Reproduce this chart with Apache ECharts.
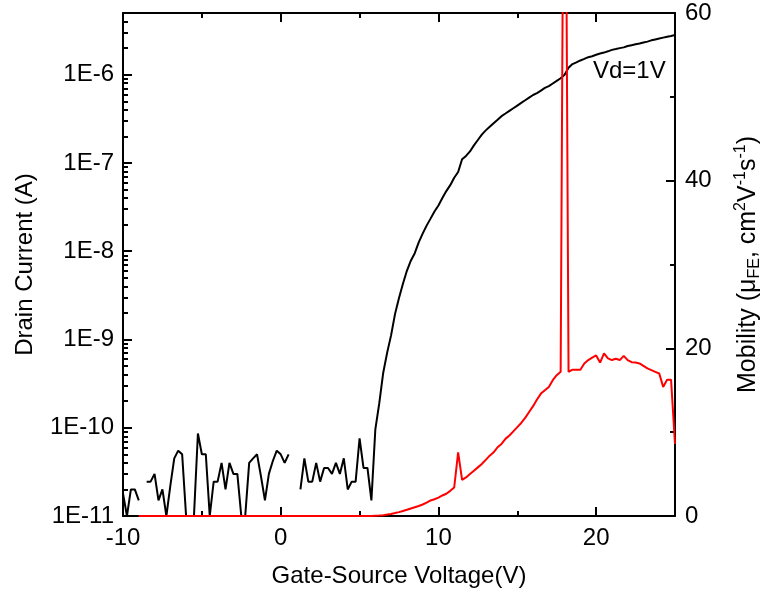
<!DOCTYPE html>
<html>
<head>
<meta charset="utf-8">
<script src="https://cdn.jsdelivr.net/npm/echarts@6/dist/echarts.min.js"></script>
<style>
html,body{margin:0;padding:0;background:#fff;}
#chart{width:762px;height:606px;}
</style>
</head>
<body>
<div id="chart"></div>
<script>
// Gate-source voltage (V)
const voltage = [
-10,-9.75,-9.5,-9.25,-9,-8.75,-8.5,-8.25,-8,-7.75,-7.5,-7.25,-7,-6.75,-6.5,-6.25,
-6,-5.75,-5.5,-5.25,-5,-4.75,-4.5,-4.25,-4,-3.75,-3.5,-3.25,-3,-2.75,-2.5,-2.25,
-2,-1.75,-1.5,-1.25,-1,-0.75,-0.5,-0.25,0,0.25,0.5,0.75,1,1.25,1.5,1.75,
2,2.25,2.5,2.75,3,3.25,3.5,3.75,4,4.25,4.5,4.75,5,5.25,5.5,5.75,
6,6.25,6.5,6.75,7,7.25,7.5,7.75,8,8.25,8.5,8.75,9,9.25,9.5,9.75,
10,10.25,10.5,10.75,11,11.25,11.5,11.75,12,12.25,12.5,12.75,13,13.25,13.5,13.75,
14,14.25,14.5,14.75,15,15.25,15.5,15.75,16,16.25,16.5,16.75,17,17.25,17.5,17.75,
18,18.25,18.5,18.75,19,19.25,19.5,19.75,20,20.25,20.5,20.75,21,21.25,21.5,21.75,
22,22.25,22.5,22.75,23,23.25,23.5,23.75,24,24.25,24.5,24.75,25
];
// Drain current (A), null = not measured / not positive
const drainCurrent = [
1.8e-11,1e-11,2.0e-11,2.0e-11,
1.5e-11,null,2.45e-11,2.45e-11,
3.0e-11,1.5e-11,2.0e-11,1e-11,
2.2e-11,4.5e-11,5.5e-11,5.0e-11,
1e-11,1e-11,1e-11,8.6e-11,
5.0e-11,5.0e-11,1e-11,2.45e-11,
2.45e-11,4.0e-11,2.0e-11,4.0e-11,
3.0e-11,3.0e-11,1e-11,1e-11,
4.0e-11,4.5e-11,5.0e-11,2.8e-11,
1.5e-11,3.0e-11,4.2e-11,5.5e-11,
5.0e-11,4.0e-11,5.0e-11,null,
null,2.0e-11,4.5e-11,2.45e-11,
2.45e-11,4.0e-11,2.45e-11,3.5e-11,
3.5e-11,3.0e-11,4.0e-11,3.0e-11,
4.5e-11,2.0e-11,2.45e-11,2.45e-11,
7.6e-11,3.5e-11,3.5e-11,1.5e-11,
9.6e-11,1.9e-10,4.2e-10,7.1e-10,
1.12e-9,1.95e-9,2.95e-9,4.27e-9,
6.0e-9,7.8e-9,9.5e-9,1.26e-8,
1.58e-8,1.95e-8,2.34e-8,2.82e-8,
3.3e-8,4.0e-8,4.8e-8,5.6e-8,
6.8e-8,7.9e-8,1.10e-7,1.20e-7,
1.35e-7,1.58e-7,1.82e-7,2.09e-7,
2.34e-7,2.57e-7,2.82e-7,3.09e-7,
3.39e-7,3.63e-7,3.89e-7,4.17e-7,
4.47e-7,4.79e-7,5.13e-7,5.5e-7,
5.89e-7,6.17e-7,6.61e-7,7.08e-7,
7.41e-7,7.94e-7,8.51e-7,9.12e-7,
1.0e-6,1.20e-6,1.32e-6,1.38e-6,
1.45e-6,1.51e-6,1.58e-6,1.62e-6,
1.68e-6,1.74e-6,1.78e-6,1.84e-6,
1.91e-6,1.95e-6,2.0e-6,2.04e-6,
2.11e-6,2.16e-6,2.21e-6,2.26e-6,
2.32e-6,2.37e-6,2.45e-6,2.51e-6,
2.57e-6,2.63e-6,2.69e-6,2.75e-6,
2.82e-6
];
// Field-effect mobility (cm2/Vs)
const mobility = [
null,null,null,null,
0,0,0,0, 0,0,0,0, 0,0,0,0, 0,0,0,0, 0,0,0,0,
0,0,0,0, 0,0,0,0, 0,0,0,0, 0,0,0,0, 0,0,0,0,
0,0,0,0, 0,0,0,0, 0,0,0,0, 0,0,0,0, 0,0,0,0,
0.03,0.06,0.1,0.17,
0.25,0.35,0.46,0.6,
0.74,0.9,1.05,1.2,
1.37,1.6,1.85,2.0,
2.2,2.45,2.65,3.0,
3.4,7.6,4.3,4.6,
5.0,5.4,5.8,6.2,
6.7,7.2,7.6,8.2,
8.6,9.2,9.6,10.1,
10.6,11.1,11.7,12.4,
13.1,13.9,14.6,15.0,
15.4,16.2,16.8,17.2,
105,17.2,17.45,17.45,
17.45,18.2,18.6,18.9,
19.15,18.3,19.4,18.8,
18.6,18.75,18.6,19.1,
18.6,18.35,18.3,18.2,
17.9,17.6,17.4,17.2,
17.0,15.4,16.25,16.25,
8.6
];
// Tick values
const xMajorTicks = [-10, 0, 10, 20];
const xMinorTicks = [-5, 5, 15, 25];
const currentDecades = [1e-11, 1e-10, 1e-9, 1e-8, 1e-7, 1e-6];
const annotation = 'Vd=1V';

const currentMinor = [];
currentDecades.forEach(function (d) {
  for (let m = 2; m <= 9; m++) {
    const v = d * m;
    if (v <= 5e-6) currentMinor.push(v);
  }
});

const FONT = "'Liberation Sans', Arial, Helvetica, sans-serif";
const black = '#000';
const txt = { fontFamily: FONT, fontSize: 24, color: black };

const currentData = voltage.map((v, i) => [v, drainCurrent[i] === null ? '-' : drainCurrent[i]]);
const mobilityData = voltage.map((v, i) => [v, mobility[i] === null ? '-' : mobility[i]]);

const chart = echarts.init(document.getElementById('chart'), null, { renderer: 'canvas' });

function xAx(pos, ticks, len, showLine, showLabel, extra) {
  return Object.assign({
    type: 'value', min: -10, max: 25, position: pos,
    axisLine: { show: showLine, onZero: false, lineStyle: { color: black, width: 2 } },
    axisTick: { show: true, inside: true, length: len, customValues: ticks, lineStyle: { color: black, width: 2 } },
    axisLabel: { show: showLabel, customValues: ticks, margin: 10, ...txt },
    splitLine: { show: false }
  }, extra || {});
}

const option = {
  animation: false,
  grid: { left: 123, right: 87, top: 13, bottom: 90, containLabel: false, outerBoundsMode: 'none' },
  xAxis: [
    xAx('bottom', xMajorTicks, 9, true, true, {
      name: 'Gate-Source Voltage(V)', nameLocation: 'middle', nameGap: 48,
      nameTextStyle: txt
    }),
    xAx('bottom', xMinorTicks, 5, false, false),
    xAx('top', xMajorTicks, 9, true, false),
    xAx('top', xMinorTicks, 5, false, false)
  ],
  yAxis: [
    {
      type: 'log', min: 1e-11, max: 5e-6, position: 'left',
      axisLine: { show: true, onZero: false, lineStyle: { color: black, width: 2 } },
      axisTick: { show: true, inside: true, length: 9, customValues: currentDecades, lineStyle: { color: black, width: 2 } },
      axisLabel: { show: true, customValues: currentDecades, margin: 9, ...txt,
        formatter: function (v) { return '1E' + Math.round(Math.log10(v)); } },
      splitLine: { show: false },
      name: 'Drain Current (A)', nameLocation: 'middle', nameGap: 86, nameRotate: 90,
      nameTextStyle: txt
    },
    {
      type: 'log', min: 1e-11, max: 5e-6, position: 'left',
      axisLine: { show: false, onZero: false },
      axisTick: { show: true, inside: true, length: 5, customValues: currentMinor, lineStyle: { color: black, width: 2 } },
      axisLabel: { show: false },
      splitLine: { show: false }
    },
    {
      type: 'value', min: 0, max: 60, interval: 20, position: 'right',
      axisLine: { show: true, onZero: false, lineStyle: { color: black, width: 2 } },
      axisTick: { show: true, inside: true, length: 9, lineStyle: { color: black, width: 2 } },
      minorTick: { show: true, splitNumber: 2, length: 5, lineStyle: { color: black, width: 2 } },
      axisLabel: { show: true, margin: 10, ...txt },
      splitLine: { show: false },
      name: 'Mobility (μ{sub|FE}, cm{sup|2}V{sup|-1}s{sup|-1})',
      nameLocation: 'middle', nameGap: 58, nameRotate: 90,
      nameTextStyle: Object.assign({}, txt, {
        fontSize: 25,
        rich: {
          sub: { fontFamily: FONT, fontSize: 16, color: black, verticalAlign: 'bottom', lineHeight: 30 },
          sup: { fontFamily: FONT, fontSize: 16, color: black, verticalAlign: 'top', lineHeight: 30 }
        }
      })
    }
  ],
  graphic: [
    { type: 'text', left: 593, top: 59, style: { text: annotation, font: '24px ' + FONT, fill: black } }
  ],
  series: [
    {
      name: 'Drain Current', type: 'line', xAxisIndex: 0, yAxisIndex: 0,
      data: currentData, showSymbol: false, connectNulls: false,
      lineStyle: { color: black, width: 2 }, itemStyle: { color: black }, z: 2
    },
    {
      name: 'Mobility', type: 'line', xAxisIndex: 0, yAxisIndex: 2,
      data: mobilityData, showSymbol: false, connectNulls: false,
      lineStyle: { color: '#ff0000', width: 2 }, itemStyle: { color: '#ff0000' }, z: 3
    }
  ]
};
chart.setOption(option);
</script>
</body>
</html>
